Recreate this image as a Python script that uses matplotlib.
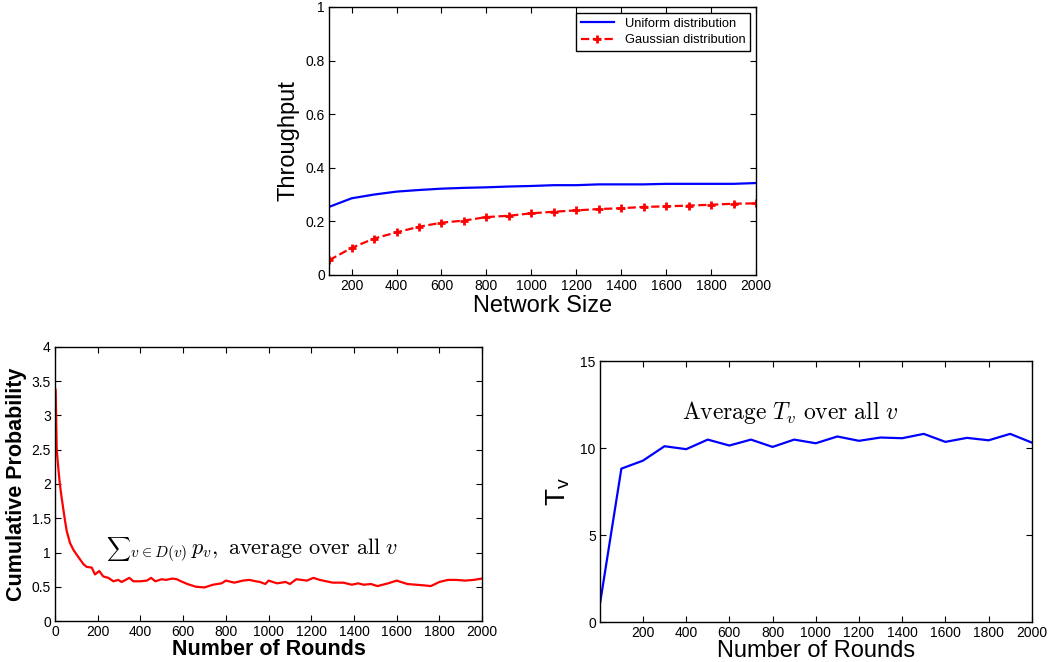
import numpy as np
import matplotlib
matplotlib.use("Agg")
import matplotlib.pyplot as plt

plt.rcParams['font.family'] = ['Liberation Sans', 'DejaVu Sans']
plt.rcParams['mathtext.fontset'] = 'cm'

# Top: throughput vs network size
net_size = [100, 200, 300, 400, 500, 600, 700, 800, 900, 1000,
            1100, 1200, 1300, 1400, 1500, 1600, 1700, 1800, 1900, 2000]
uniform_tp = [0.254, 0.286, 0.300, 0.311, 0.317, 0.322, 0.325, 0.327, 0.330, 0.332,
              0.335, 0.335, 0.338, 0.338, 0.338, 0.340, 0.340, 0.340, 0.340, 0.343]
gaussian_tp = [0.055, 0.101, 0.136, 0.159, 0.180, 0.195, 0.203, 0.216, 0.221, 0.230,
               0.236, 0.241, 0.246, 0.249, 0.254, 0.256, 0.259, 0.262, 0.266, 0.267]

# Bottom left: cumulative probability vs rounds
cp_rounds = [0, 3, 8, 16, 23, 31, 39, 47, 55, 70, 86, 101, 117, 133, 148, 172, 187,
             207, 226, 250, 273, 296, 312, 348, 367, 400, 430, 450, 470, 500, 520,
             550, 570, 590, 620, 660, 700, 740, 780, 800, 840, 880, 910, 940, 960,
             985, 1000, 1040, 1080, 1100, 1130, 1180, 1210, 1240, 1270, 1300, 1350,
             1390, 1420, 1445, 1480, 1510, 1560, 1600, 1620, 1650, 1690, 1730, 1760,
             1800, 1840, 1880, 1920, 1960, 2000]
cp_values = [3.40, 3.37, 2.50, 2.21, 1.99, 1.80, 1.63, 1.46, 1.31, 1.14, 1.04, 0.97,
             0.90, 0.83, 0.79, 0.78, 0.68, 0.73, 0.65, 0.63, 0.58, 0.60, 0.57, 0.63,
             0.58, 0.58, 0.59, 0.63, 0.58, 0.61, 0.60, 0.62, 0.61, 0.58, 0.54, 0.50,
             0.49, 0.53, 0.55, 0.59, 0.56, 0.59, 0.60, 0.58, 0.57, 0.54, 0.59, 0.55,
             0.57, 0.54, 0.61, 0.59, 0.63, 0.60, 0.58, 0.56, 0.56, 0.53, 0.55, 0.53,
             0.54, 0.51, 0.55, 0.59, 0.57, 0.54, 0.53, 0.52, 0.51, 0.57, 0.60, 0.60,
             0.59, 0.60, 0.62]

# Bottom right: average T_v vs rounds
tv_rounds = [1, 100, 200, 300, 400, 500, 600, 700, 800, 900, 1000,
             1100, 1200, 1300, 1400, 1500, 1600, 1700, 1800, 1900, 2000]
tv_values = [1.05, 8.82, 9.28, 10.11, 9.94, 10.49, 10.15, 10.49, 10.07, 10.49, 10.28,
             10.67, 10.42, 10.61, 10.57, 10.82, 10.36, 10.59, 10.45, 10.82, 10.32]


def matlab_axes(ax):
    ax.tick_params(direction='in', top=True, right=True, length=4, width=0.8,
                   labelsize=10, pad=3)
    for s in ax.spines.values():
        s.set_linewidth(1.0)


def fmt(v, pos):
    return ('%g' % v)


fig = plt.figure(figsize=(10.48, 6.62), dpi=100)

# --- top panel
ax1 = fig.add_axes([0.314, 0.5846, 0.4075, 0.405])
ax1.plot(net_size, uniform_tp, color='#0000ff', lw=1.6, label='Uniform distribution')
ax1.plot(net_size, gaussian_tp, color='#ff0000', lw=1.6, ls='--', marker='+',
         markersize=6, markeredgewidth=2, label='Gaussian distribution')
ax1.set_xlim(100, 2000)
ax1.set_ylim(0, 1)
ax1.set_xticks(range(200, 2001, 200))
ax1.set_yticks([0, 0.2, 0.4, 0.6, 0.8, 1])
ax1.yaxis.set_major_formatter(matplotlib.ticker.FuncFormatter(fmt))
ax1.set_xlabel('Network Size', fontsize=17, labelpad=1)
ax1.set_ylabel('Throughput', fontsize=17, labelpad=4)
matlab_axes(ax1)
leg = ax1.legend(loc='upper right', fontsize=9.3, fancybox=False, edgecolor='black',
                 framealpha=1, borderaxespad=0.5, handlelength=2.6, borderpad=0.35,
                 labelspacing=0.35)
leg.get_frame().set_linewidth(1.0)

# --- bottom left
ax2 = fig.add_axes([0.0525, 0.0619, 0.4075, 0.414])
ax2.plot(cp_rounds, cp_values, color='#ff0000', lw=1.6)
ax2.set_xlim(0, 2000)
ax2.set_ylim(0, 4)
ax2.set_xticks(range(0, 2001, 200))
ax2.set_yticks(np.arange(0, 4.01, 0.5))
ax2.yaxis.set_major_formatter(matplotlib.ticker.FuncFormatter(fmt))
ax2.set_xlabel('Number of Rounds', fontsize=15.5, fontweight='bold', labelpad=0)
ax2.set_ylabel('Cumulative Probability', fontsize=15.5, fontweight='bold', labelpad=3)
matlab_axes(ax2)
# sum sign drawn on its own, subscripts beside it (text style)
ax2.text(240, 0.97, r'$\sum$', fontsize=12, ha='left', va='baseline')
ax2.text(352, 0.97, r'$_{v\in D(v)}\,p_v,\ \mathrm{average\ over\ all}\ v$',
         fontsize=16, ha='left', va='baseline')

# --- bottom right
ax3 = fig.add_axes([0.5725, 0.0604, 0.412, 0.394])
ax3.plot(tv_rounds, tv_values, color='#0000ff', lw=1.6)
ax3.set_xlim(1, 2000)
ax3.set_ylim(0, 15)
ax3.set_xticks(range(200, 2001, 200))
ax3.set_yticks([0, 5, 10, 15])
ax3.set_xlabel('Number of Rounds', fontsize=17, labelpad=0)
ax3.set_ylabel(r'$\mathregular{T_v}$', fontsize=20, labelpad=6)
matlab_axes(ax3)
ax3.text(383, 11.7, r'$\mathrm{Average}\ T_v\ \mathrm{over\ all}\ v$',
         fontsize=17, ha='left', va='baseline')

fig.savefig('out.png', dpi=100)
